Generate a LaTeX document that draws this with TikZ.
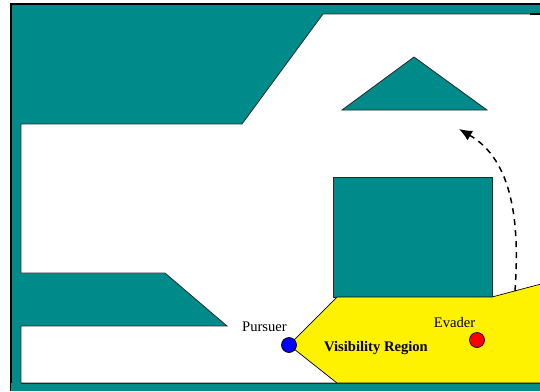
\documentclass[tikz,border=0pt]{standalone}
\usepackage{fontspec}
\setmainfont{Liberation Serif}
\usetikzlibrary{arrows.meta}
\definecolor{wallteal}{RGB}{0,139,139}
\definecolor{edgegray}{RGB}{40,40,40}
\begin{document}
\begin{tikzpicture}[x=1pt,y=-1pt,
  obstacle/.style={fill=wallteal,draw=edgegray,line width=0.8pt,line join=miter},
  freespace/.style={fill=white,draw=edgegray,line width=0.8pt},
  visible/.style={fill=yellow,draw=black,line width=0.7pt},
  agent/.style={circle,draw=black,line width=0.7pt,minimum size=15pt,inner sep=0pt},
  lbl/.style={font=\fontsize{14.6}{17}\selectfont,inner sep=0pt,anchor=base},
  path/.style={dashed,dash pattern=on 6pt off 5pt,line width=1.5pt,-{Latex[length=13pt,width=11pt]}}]
\useasboundingbox (0,0) rectangle (540,391);
% outer walls
\fill[wallteal] (11,4) rectangle (540,391);
\draw[black,line width=1.5pt] (11,391) -- (11,4) -- (540,4);
% free space of the environment
\draw[freespace] (540,14) -- (323,14) -- (242,124) -- (21,124) -- (21,273)
  -- (165,273) -- (227,326) -- (21,326) -- (21,383) -- (540,383);
\fill[white] (540,14.4) rectangle (541,382.6);
\draw[black,line width=1.2pt] (530,14) -- (540,14);
% obstacles
\draw[obstacle] (342,110) -- (414,57) -- (487,110) -- cycle;
\draw[obstacle] (333,177) rectangle (492,297);
% visibility region of the pursuer
\draw[visible] (289,345) -- (337,297) -- (492,297) -- (541,284) -- (541,383)
  -- (337,383) -- cycle;
\fill[wallteal] (11,383.4) rectangle (540,391);
\draw[edgegray,line width=0.8pt] (21,383) -- (540,383);
% agents
\node[agent,fill=blue] (pursuer) at (289,345) {};
\node[agent,fill=red] (evader) at (477,340) {};
\node[lbl] (pursuerlbl) at (264.5,331) {Pursuer};
\node[lbl] (evaderlbl) at (454.5,327) {Evader};
\node[lbl,font=\fontsize{14.6}{17}\selectfont\bfseries] (vislbl) at (376,351) {Visibility Region};
% predicted escape route of the evader
\coordinate (routestart) at (515,291);
\coordinate (routeend) at (459,129);
\draw[path] (routestart) .. controls (520,220) and (512,160) .. (routeend);
\end{tikzpicture}
\end{document}
